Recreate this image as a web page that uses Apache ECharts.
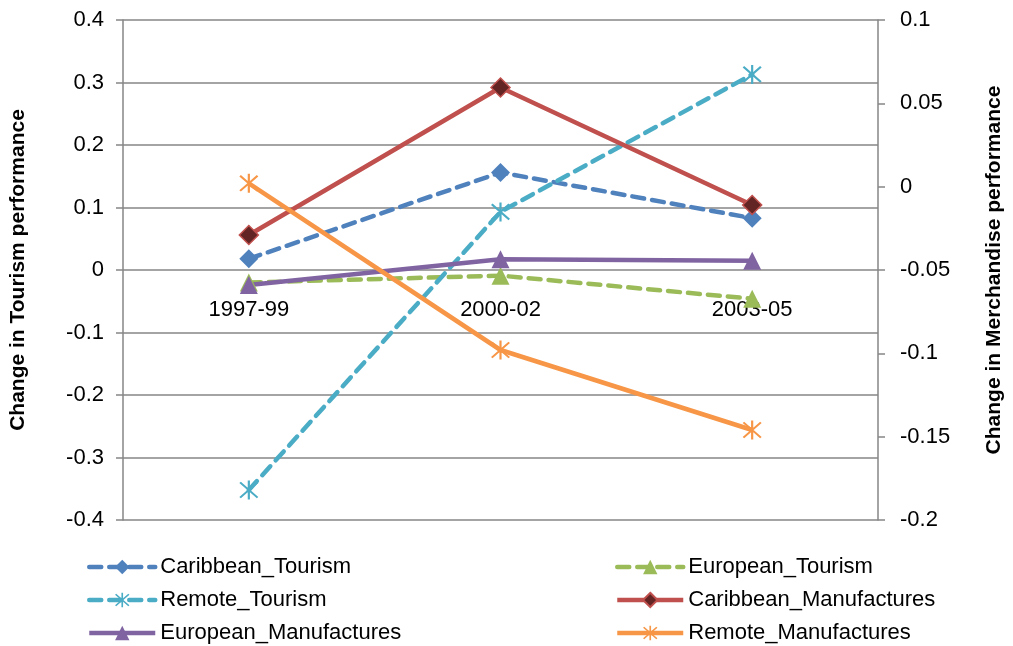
<!DOCTYPE html>
<html>
<head>
<meta charset="utf-8">
<script src="https://cdn.jsdelivr.net/npm/echarts@6/dist/echarts.min.js"></script>
<style>
  html, body { margin: 0; padding: 0; background: #fff; }
  #chart { width: 1013px; height: 646px; }
</style>
</head>
<body>
<div id="chart"></div>
<script>
// periods
const periods = ['1997-99', '2000-02', '2003-05']

// left axis (tourism)
const caribbeanTourism = [0.018, 0.156, 0.083]
const europeanTourism = [-0.02, -0.009, -0.046]
const remoteTourism = [-0.352, 0.093, 0.313]

// right axis (merchandise)
const caribbeanManuf = [-0.029, 0.0595, -0.011]
const europeanManuf = [-0.059, -0.0435, -0.0445]
const remoteManuf = [0.002, -0.098, -0.146]

// asterisk marker
const star = 'path://M-10,-100L10,-100L10,100L-10,100Z' +
  'M-73,-87L87,73L73,87L-87,-73Z' +
  'M87,-73L-73,87L-87,73L73,-87Z'

const font = 'Liberation Sans'
const chart = echarts.init(document.getElementById('chart'))

function dashed(name, data, color, symbol, size) {
  return {
    name, type: 'line', yAxisIndex: 0, data,
    symbol, symbolSize: size,
    lineStyle: { color, width: 4.5, type: [12, 8], cap: 'round' },
    itemStyle: { color },
    z: 3
  }
}
function solid(name, data, color, symbol, size, fill) {
  return {
    name, type: 'line', yAxisIndex: 1, data,
    symbol, symbolSize: size,
    lineStyle: { color, width: 4.5 },
    itemStyle: fill ? { color: fill, borderColor: color, borderWidth: 1.5 } : { color },
    z: 3
  }
}

const legendBase = {
  top: 556, height: 100, padding: 0, orient: 'vertical', itemGap: 11,
  itemWidth: 66, itemHeight: 18,
  lineStyle: { width: 4.5 },
  textStyle: { fontFamily: font, fontSize: 22, color: '#000' }
}

chart.setOption({
  animation: false,
  textStyle: { fontFamily: font, color: '#000' },
  grid: { left: 123, right: 131, top: 20, bottom: 126 },
  legend: [
    Object.assign({ left: 87, data: ['Caribbean_Tourism', 'Remote_Tourism', 'European_Manufactures'] }, legendBase),
    Object.assign({ left: 615, data: ['European_Tourism', 'Caribbean_Manufactures', 'Remote_Manufactures'] }, legendBase)
  ],
  xAxis: {
    type: 'category',
    data: periods,
    boundaryGap: true,
    position: 'bottom',
    offset: -250,
    axisLine: { show: false, onZero: false },
    axisTick: { show: false },
    axisLabel: { fontSize: 22, color: '#000', margin: 29, fontFamily: font }
  },
  yAxis: [
    {
      type: 'value', min: -0.4, max: 0.4, interval: 0.1,
      name: 'Change in Tourism performance',
      nameLocation: 'middle', nameGap: 94,
      nameTextStyle: { fontSize: 21, fontWeight: 'bold', color: '#000', fontFamily: font },
      axisLine: { show: true, lineStyle: { color: '#868686', width: 1.5 } },
      axisTick: { show: true, length: 7, lineStyle: { color: '#868686', width: 1.5 } },
      axisLabel: { fontSize: 22, color: '#000', margin: 19, fontFamily: font,
        formatter: v => (Math.round(v * 10) / 10).toString() },
      splitLine: { lineStyle: { color: '#868686', width: 1.5 } }
    },
    {
      type: 'value', min: -0.2, max: 0.1, interval: 0.05,
      name: 'Change in Merchandise performance',
      nameLocation: 'middle', nameGap: 106,
      nameRotate: 90,
      nameTextStyle: { fontSize: 21, fontWeight: 'bold', color: '#000', fontFamily: font },
      axisLine: { show: true, lineStyle: { color: '#868686', width: 1.5 } },
      axisTick: { show: true, length: 7, lineStyle: { color: '#868686', width: 1.5 } },
      axisLabel: { fontSize: 22, color: '#000', margin: 22, fontFamily: font,
        formatter: v => (Math.round(v * 100) / 100).toString() },
      splitLine: { show: false }
    }
  ],
  series: [
    dashed('Caribbean_Tourism', caribbeanTourism, '#4F81BD', 'diamond', 19),
    dashed('European_Tourism', europeanTourism, '#9BBB59', 'triangle', 18),
    dashed('Remote_Tourism', remoteTourism, '#4BACC6', star, 19),
    solid('Caribbean_Manufactures', caribbeanManuf, '#C0504D', 'diamond', 19, '#632523'),
    solid('European_Manufactures', europeanManuf, '#8064A2', 'triangle', 18),
    solid('Remote_Manufactures', remoteManuf, '#F79646', star, 19)
  ]
})
</script>
</body>
</html>
